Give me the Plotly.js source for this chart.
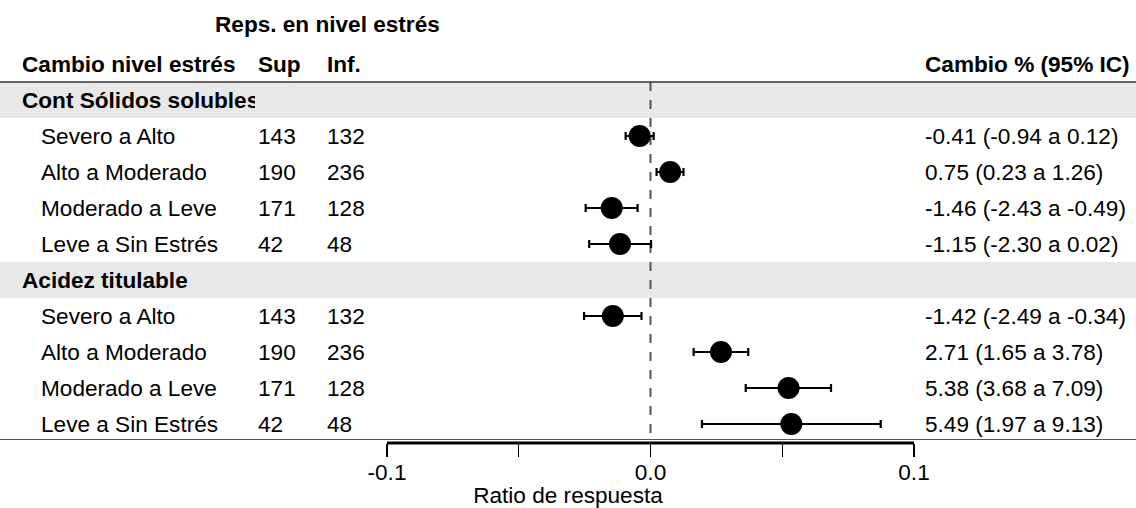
<!DOCTYPE html>
<html>
<head>
<meta charset="utf-8">
<script src="https://cdn.plot.ly/plotly-3.0.1.min.js"></script>
<style>html,body{margin:0;padding:0;background:#fff;} #chart{width:1136px;height:508px;}</style>
</head>
<body>
<div id="chart"></div>
<script>
// ---- data ----
const groups = ["Cont Sólidos solubles", "Acidez titulable"];
const labels = ["Severo a Alto", "Alto a Moderado", "Moderado a Leve", "Leve a Sin Estrés",
                "Severo a Alto", "Alto a Moderado", "Moderado a Leve", "Leve a Sin Estrés"];
const sup = [143, 190, 171, 42, 143, 190, 171, 42];
const inf = [132, 236, 128, 48, 132, 236, 128, 48];
const cambioText = ["-0.41 (-0.94 a 0.12)", "0.75 (0.23 a 1.26)", "-1.46 (-2.43 a -0.49)", "-1.15 (-2.30 a 0.02)",
                    "-1.42 (-2.49 a -0.34)", "2.71 (1.65 a 3.78)", "5.38 (3.68 a 7.09)", "5.49 (1.97 a 9.13)"];
// response ratio (log scale) estimate and 95% CI
const est = [-0.00411, 0.00747, -0.01471, -0.01157, -0.01430, 0.02674, 0.05240, 0.05345];
const lo  = [-0.00944, 0.00230, -0.02460, -0.02327, -0.02522, 0.01637, 0.03614, 0.01951];
const hi  = [ 0.00120, 0.01252, -0.00491,  0.00020, -0.00341, 0.03710, 0.06850, 0.08736];
const tickVals = [-0.1, -0.05, 0, 0.05, 0.1];
const tickText = ["-0.1", "", "0.0", "", "0.1"];

// ---- layout helpers ----
const W = 1136, H = 508;
const rowPx = 36, row0Px = 100, plotBottom = 443;
const groupRows = [0, 5];
const itemRows = [1, 2, 3, 4, 6, 7, 8, 9];
const pxToRow = p => (p - row0Px) / rowPx;
const px = p => p / W;

const FONT = "Liberation Sans, Arial, sans-serif";
const fs = 22.6;

const trace = {
  type: "scatter", mode: "markers",
  x: est, y: itemRows,
  marker: {color: "#000", size: 22, symbol: "circle"},
  error_x: {type: "data", symmetric: false,
            array: hi.map((h, i) => h - est[i]),
            arrayminus: est.map((e, i) => e - lo[i]),
            color: "#000", thickness: 2.2, width: 4},
  hoverinfo: "skip", showlegend: false, cliponaxis: false
};

const ann = [];
function txt(x, y, t, opts) {
  ann.push(Object.assign({xref: "paper", yref: "y", x: x, y: y, text: t, showarrow: false,
    xanchor: "left", yanchor: "middle", font: {family: FONT, size: fs, color: "#000"}, borderpad: 0}, opts || {}));
}
// headers
txt(px(214), pxToRow(24), "<b>Reps. en nivel estrés</b>");
txt(px(21), -1, "<b>Cambio nivel estrés</b>");
txt(px(257), -1, "<b>Sup</b>");
txt(px(326), -1, "<b>Inf.</b>");
txt(px(924), -1, "<b>Cambio % (95% IC)</b>");
// group headers (first one clipped like the original)
txt(px(21), groupRows[0], "<b>" + groups[0] + "</b>", {width: 233, align: "left"});
txt(px(21), groupRows[1], "<b>" + groups[1] + "</b>");
// rows
itemRows.forEach((r, i) => {
  txt(px(40), r, labels[i]);
  txt(px(257), r, String(sup[i]));
  txt(px(326), r, String(inf[i]));
  txt(px(924), r, cambioText[i]);
});

const shapes = [
  // grey group bands
  ...groupRows.map(g => ({type: "rect", xref: "paper", yref: "y", x0: 0, x1: 1, y0: g - 0.5, y1: g + 0.5,
    fillcolor: "#e8e8e8", line: {width: 0}, layer: "below"})),
  // header rule
  {type: "line", xref: "paper", yref: "y", x0: 0, x1: 1, y0: -0.5, y1: -0.5, line: {color: "#333", width: 1.5}},
  // bottom rule
  {type: "line", xref: "paper", yref: "y", x0: 0, x1: 1, y0: pxToRow(439.5), y1: pxToRow(439.5), line: {color: "#555", width: 1}},
  // zero reference
  {type: "line", xref: "x", yref: "y", x0: 0, x1: 0, y0: -0.5, y1: pxToRow(plotBottom), layer: "below",
    line: {color: "#555", width: 2, dash: "dash"}},
  // axis line over tick range
  {type: "line", xref: "x", yref: "paper", x0: tickVals[0], x1: tickVals[tickVals.length - 1], y0: 0, y1: 0,
    line: {color: "#000", width: 2.8}}
];

const layout = {
  width: W, height: H,
  margin: {l: 0, r: 0, t: 0, b: H - plotBottom, pad: 0},
  paper_bgcolor: "#fff", plot_bgcolor: "rgba(0,0,0,0)",
  font: {family: FONT, size: fs, color: "#000"},
  showlegend: false,
  xaxis: {range: [-650.5 / 2635, (W - 650.5) / 2635], tickvals: tickVals, ticktext: tickText,
          ticks: "outside", ticklen: 13, tickwidth: 1.3, tickcolor: "#000",
          ticklabelstandoff: -4,
          showgrid: false, zeroline: false, showline: false,
          tickfont: {family: FONT, size: fs, color: "#000"},
          title: {text: "Ratio de respuesta", font: {family: FONT, size: fs, color: "#000"}, standoff: 2},
          fixedrange: true},
  yaxis: {range: [pxToRow(plotBottom), pxToRow(0)], showgrid: false, zeroline: false, showline: false,
          showticklabels: false, ticks: "", fixedrange: true},
  shapes: shapes,
  annotations: ann
};

Plotly.newPlot("chart", [trace], layout, {displayModeBar: false, staticPlot: true});
</script>
</body>
</html>
